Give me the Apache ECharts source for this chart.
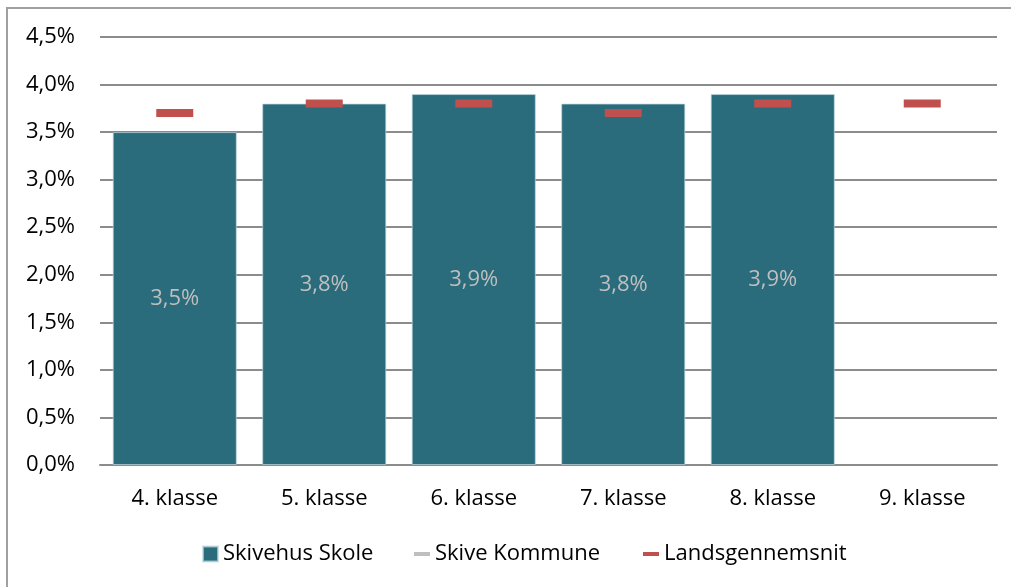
<!DOCTYPE html>
<html>
<head>
<meta charset="utf-8">
<script src="https://cdn.jsdelivr.net/npm/echarts@6/dist/echarts.min.js"></script>
<style>
  html, body { margin: 0; padding: 0; background: #fff; }
  #chart { width: 1011px; height: 587px; }
</style>
</head>
<body>
<div id="chart"></div>
<script>
const categories = ['4. klasse', '5. klasse', '6. klasse', '7. klasse', '8. klasse', '9. klasse'];
const skivehusSkole = [3.5, 3.8, 3.9, 3.8, 3.9, null];
const skiveKommune = [null, null, null, null, null, null];
const landsgennemsnit = [3.7, 3.8, 3.8, 3.7, 3.8, 3.8];
const yTicks = { min: 0, max: 4.5, interval: 0.5 };

const FONT = '"Open Sans", "Noto Sans", sans-serif';
const fmt = v => v.toFixed(1).replace('.', ',') + '%';

const chart = echarts.init(document.getElementById('chart'), null, { renderer: 'canvas' });
chart.setOption({
  animation: false,
  backgroundColor: '#ffffff',
  textStyle: { fontFamily: FONT },
  graphic: [{
    type: 'rect',
    shape: { x: 7, y: 8, width: 1100, height: 700 },
    style: { fill: 'none', stroke: '#a0a0a0', lineWidth: 2 },
    silent: true, z: -1
  }],
  grid: { left: 100, right: 14, top: 37, bottom: 122, containLabel: false },
  xAxis: {
    type: 'category',
    data: categories,
    axisLine: { show: true, lineStyle: { color: '#8c8c8c', width: 2 } },
    axisTick: { show: false },
    axisLabel: { color: '#000', fontSize: 22, fontFamily: FONT, margin: 23 }
  },
  yAxis: {
    type: 'value',
    min: yTicks.min, max: yTicks.max, interval: yTicks.interval,
    axisLine: { show: false },
    axisTick: { show: false },
    splitLine: { lineStyle: { color: '#8c8c8c', width: 2 } },
    axisLabel: { color: '#000', fontSize: 22, fontFamily: FONT, margin: 25, formatter: fmt }
  },
  legend: [
    {
      data: [{ name: 'Skivehus Skole', icon: 'rect' }],
      left: 197, top: 538, itemWidth: 15, itemHeight: 15,
      textStyle: { color: '#000', fontSize: 22, fontFamily: FONT },
      selectedMode: false
    },
    {
      data: [{ name: 'Skive Kommune', icon: 'rect' }],
      left: 409, top: 538, itemWidth: 16, itemHeight: 4,
      textStyle: { color: '#000', fontSize: 22, fontFamily: FONT },
      selectedMode: false
    },
    {
      data: [{ name: 'Landsgennemsnit', icon: 'rect' }],
      left: 638, top: 538, itemWidth: 16, itemHeight: 4,
      textStyle: { color: '#000', fontSize: 22, fontFamily: FONT },
      selectedMode: false
    }
  ],
  series: [
    {
      name: 'Skivehus Skole',
      type: 'bar',
      data: skivehusSkole,
      barCategoryGap: '17%',
      itemStyle: { color: '#2A6B7C', borderColor: 'rgba(190,215,222,0.7)', borderWidth: 1 },
      label: {
        show: true, position: 'inside', color: '#BFBFBF',
        fontSize: 22, fontFamily: FONT, formatter: p => fmt(p.value)
      },
      z: 2
    },
    {
      name: 'Skive Kommune',
      type: 'line',
      data: skiveKommune,
      symbol: 'none',
      itemStyle: { color: '#BFBFBF' },
      lineStyle: { color: '#BFBFBF', width: 4 }
    },
    {
      name: 'Landsgennemsnit',
      type: 'scatter',
      data: landsgennemsnit,
      symbol: 'rect',
      symbolSize: [37, 8],
      itemStyle: { color: '#C0504D', opacity: 1 },
      z: 5
    }
  ]
});
</script>
</body>
</html>
